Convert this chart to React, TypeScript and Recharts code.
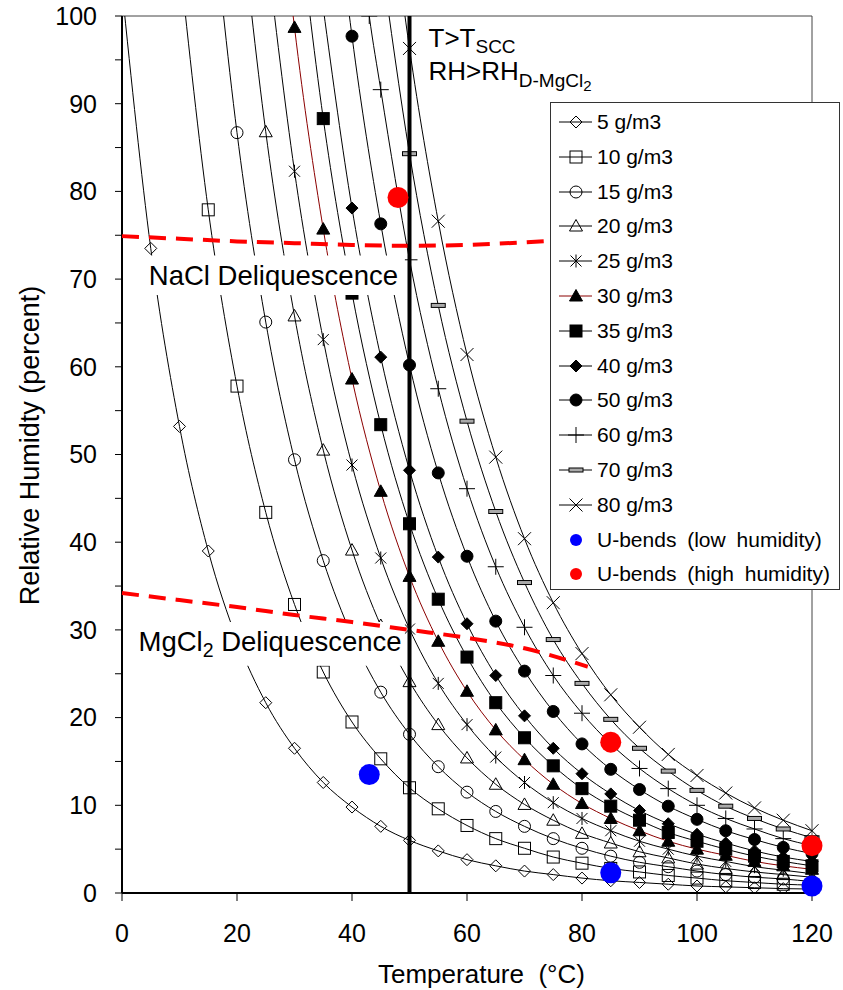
import React from "react";
import { ComposedChart, Line, Scatter, XAxis, YAxis, ReferenceLine, ReferenceArea, Legend } from "recharts";

const FONT = '"Liberation Sans", Arial, Helvetica, sans-serif';

// temperature grid of the curves (°C)
const temps = [0, 5, 10, 15, 20, 25, 30, 35, 40, 45, 50, 55, 60, 65, 70, 75, 80, 85, 90, 95, 100, 105, 110, 115, 120];

// relative humidity (%) for each absolute humidity; first value of each row runs off the top of the chart
const rh5 = [103.1, 73.5, 53.2, 39.0, 28.9, 21.7, 16.5, 12.6, 9.8, 7.6, 6.0, 4.8, 3.8, 3.1, 2.5, 2.1, 1.7, 1.4, 1.2, 1.0, 0.8, 0.7, 0.6, 0.5, 0.45];
const rh10 = [null, null, 106.4, 77.9, 57.8, 43.4, 32.9, 25.2, 19.5, 15.3, 12.0, 9.6, 7.7, 6.2, 5.1, 4.1, 3.4, 2.8, 2.4, 2.0, 1.7, 1.4, 1.2, 1.0, 0.9];
const rh15 = [null, null, null, 116.9, 86.7, 65.1, 49.4, 37.9, 29.3, 22.9, 18.1, 14.4, 11.5, 9.3, 7.6, 6.2, 5.1, 4.2, 3.5, 3.0, 2.5, 2.1, 1.8, 1.6, 1.3];
const rh20 = [null, null, null, null, 115.6, 86.8, 65.8, 50.5, 39.1, 30.5, 24.1, 19.2, 15.4, 12.4, 10.1, 8.3, 6.8, 5.7, 4.7, 4.0, 3.3, 2.8, 2.4, 2.1, 1.8];
const rh25 = [null, null, null, null, null, 108.5, 82.3, 63.1, 48.8, 38.2, 30.1, 23.9, 19.2, 15.5, 12.6, 10.3, 8.5, 7.1, 5.9, 5.0, 4.2, 3.6, 3.0, 2.6, 2.2];
const rh30 = [null, null, null, null, null, 130.2, 98.7, 75.7, 58.6, 45.8, 36.1, 28.7, 23.0, 18.6, 15.2, 12.4, 10.2, 8.5, 7.1, 5.9, 5.0, 4.3, 3.6, 3.1, 2.7];
const rh35 = [null, null, null, null, null, null, 115.2, 88.3, 68.4, 53.4, 42.1, 33.5, 26.9, 21.7, 17.7, 14.5, 11.9, 9.9, 8.3, 6.9, 5.9, 5.0, 4.2, 3.6, 3.1];
const rh40 = [null, null, null, null, null, null, null, 100.9, 78.1, 61.1, 48.2, 38.3, 30.7, 24.8, 20.2, 16.5, 13.6, 11.3, 9.4, 7.9, 6.7, 5.7, 4.8, 4.1, 3.6];
const rh50 = [null, null, null, null, null, null, null, 126.2, 97.7, 76.3, 60.2, 47.9, 38.4, 31.0, 25.3, 20.7, 17.0, 14.1, 11.8, 9.9, 8.4, 7.1, 6.1, 5.2, 4.5];
const rh60 = [null, null, null, null, null, null, null, null, 117.2, 91.6, 72.2, 57.5, 46.1, 37.2, 30.3, 24.8, 20.5, 17.0, 14.2, 11.9, 10.0, 8.5, 7.3, 6.2, 5.4];
const rh70 = [null, null, null, null, null, null, null, null, null, 106.9, 84.3, 67.0, 53.8, 43.5, 35.4, 28.9, 23.9, 19.8, 16.5, 13.9, 11.7, 9.9, 8.5, 7.3, 6.3];
const rh80 = [null, null, null, null, null, null, null, null, null, 122.1, 96.3, 76.6, 61.4, 49.7, 40.4, 33.1, 27.3, 22.6, 18.9, 15.8, 13.4, 11.4, 9.7, 8.3, 7.1];
// extra 60 g/m3 point sitting on the top edge
const rh60Extra = [{ t: 43, rh: 100 }];

// deliquescence lines
const naclTemps = [0, 10, 20, 30, 40, 50, 60, 70, 80];
const naclRh = [74.9, 74.6, 74.3, 74.1, 73.9, 73.8, 73.9, 74.2, 74.6];
const mgclTemps = [0, 10, 20, 30, 40, 50, 60, 70, 81];
const mgclRh = [34.2, 33.4, 32.6, 31.7, 30.9, 30.0, 29.1, 27.9, 25.8];

// U-bend samples
const lowT = [43, 85, 120];
const lowRh = [13.5, 2.3, 0.8];
const highT = [48, 85, 120];
const highRh = [79.3, 17.2, 5.4];

const series = [
  { name: "5 g/m3", values: rh5, marker: "diamondOpen", color: "#000" },
  { name: "10 g/m3", values: rh10, marker: "squareOpen", color: "#000" },
  { name: "15 g/m3", values: rh15, marker: "circleOpen", color: "#000" },
  { name: "20 g/m3", values: rh20, marker: "triangleOpen", color: "#000" },
  { name: "25 g/m3", values: rh25, marker: "asterisk", color: "#000" },
  { name: "30 g/m3", values: rh30, marker: "triangleFilled", color: "#8b0000" },
  { name: "35 g/m3", values: rh35, marker: "squareFilled", color: "#000" },
  { name: "40 g/m3", values: rh40, marker: "diamondFilled", color: "#000" },
  { name: "50 g/m3", values: rh50, marker: "circleFilled", color: "#000" },
  { name: "60 g/m3", values: rh60, marker: "plus", color: "#000", extra: rh60Extra },
  { name: "70 g/m3", values: rh70, marker: "dash", color: "#000" },
  { name: "80 g/m3", values: rh80, marker: "cross", color: "#000" },
];

const W = 843;
const H = 990;
const MARGIN = { top: 16, right: 31, bottom: 97, left: 122 };

const toRows = (ts: number[], vs: (number | null)[]) =>
  ts.map((t, i) => ({ t, rh: vs[i] })).filter((d) => d.rh != null);

const Marker = ({ kind, cx, cy }: { kind: string; cx: number; cy: number }) => {
  const k = "#000";
  switch (kind) {
    case "diamondOpen":
    case "diamondFilled":
      return (
        <polygon
          points={`${cx},${cy - 6} ${cx + 6},${cy} ${cx},${cy + 6} ${cx - 6},${cy}`}
          fill={kind === "diamondFilled" ? k : "none"}
          stroke={k}
        />
      );
    case "squareOpen":
    case "squareFilled":
      return <rect x={cx - 6} y={cy - 6} width={12} height={12} fill={kind === "squareFilled" ? k : "none"} stroke={k} />;
    case "circleOpen":
    case "circleFilled":
      return <circle cx={cx} cy={cy} r={6} fill={kind === "circleFilled" ? k : "none"} stroke={k} />;
    case "triangleOpen":
    case "triangleFilled":
      return (
        <polygon
          points={`${cx},${cy - 6.5} ${cx + 6.5},${cy + 5} ${cx - 6.5},${cy + 5}`}
          fill={kind === "triangleFilled" ? k : "none"}
          stroke={k}
        />
      );
    case "asterisk":
      return (
        <path
          d={`M${cx - 5.5},${cy - 5.5}L${cx + 5.5},${cy + 5.5}M${cx + 5.5},${cy - 5.5}L${cx - 5.5},${cy + 5.5}M${cx},${cy - 6.5}L${cx},${cy + 6.5}`}
          stroke={k}
          fill="none"
        />
      );
    case "plus":
      return <path d={`M${cx - 8},${cy}H${cx + 8}M${cx},${cy - 8}V${cy + 8}`} stroke={k} fill="none" />;
    case "dash":
      return <rect x={cx - 7} y={cy - 2} width={14} height={4} fill="#aaa" stroke={k} />;
    case "cross":
      return <path d={`M${cx - 6.5},${cy - 6.5}L${cx + 6.5},${cy + 6.5}M${cx + 6.5},${cy - 6.5}L${cx - 6.5},${cy + 6.5}`} stroke={k} fill="none" />;
    default:
      return <g />;
  }
};

const makeDot = (kind: string) => (props: any) => {
  const { cx, cy, payload, index } = props;
  if (cx == null || cy == null || payload == null || payload.rh > 100) return <g key={index} />;
  return (
    <g key={index}>
      <Marker kind={kind} cx={cx} cy={cy} />
    </g>
  );
};

const bigDot = (color: string) => (props: any) => <circle cx={props.cx} cy={props.cy} r={10.5} fill={color} />;

const LegendBox = () => (
  <div
    style={{
      position: "relative",
      width: 290,
      height: 488,
      boxSizing: "border-box",
      border: "1px solid #333",
      background: "#fff",
      fontFamily: FONT,
      fontSize: 21,
      color: "#000",
    }}
  >
    {series.map((s, i) => (
      <div key={s.name} style={{ position: "absolute", left: 0, top: 1.6 + 34.8 * i, height: 34.8, display: "flex", alignItems: "center" }}>
        <svg width={46} height={20}>
          <line x1={8} x2={41} y1={10} y2={10} stroke={s.color} />
          <Marker kind={s.marker} cx={25} cy={10} />
        </svg>
        <span style={{ whiteSpace: "pre" }}>{s.name}</span>
      </div>
    ))}
    {[
      { name: "U-bends (low humidity)", color: "#0000ff" },
      { name: "U-bends (high humidity)", color: "#ff0000" },
    ].map((s, j) => (
      <div key={s.name} style={{ position: "absolute", left: 0, top: 1.6 + 34.8 * (12 + j), height: 34.8, display: "flex", alignItems: "center" }}>
        <svg width={46} height={20}>
          <circle cx={25} cy={10} r={6} fill={s.color} />
        </svg>
        <span style={{ whiteSpace: "pre", wordSpacing: 5 }}>{s.name}</span>
      </div>
    ))}
  </div>
);

const yLabel = (props: any) => {
  const vb = props.viewBox;
  const cx = 39;
  const cy = vb.y + vb.height / 2 - 9;
  return (
    <text x={cx} y={cy} transform={`rotate(-90, ${cx}, ${cy})`} textAnchor="middle" fontSize={27} fontFamily={FONT} fill="#000">
      Relative Humidty (percent)
    </text>
  );
};

const xLabel = (props: any) => {
  const vb = props.viewBox;
  return (
    <text x={vb.x + 256} y={vb.y + 90} fontSize={26} fontFamily={FONT} fill="#000" style={{ whiteSpace: "pre" }}>
      Temperature  (°C)
    </text>
  );
};

const naclLabel = (props: any) => {
  const vb = props.viewBox;
  return (
    <text x={vb.x + 9} y={vb.y + 30} fontSize={27.5} fontFamily={FONT} fill="#000">
      NaCl Deliquescence
    </text>
  );
};

const mgclLabel = (props: any) => {
  const vb = props.viewBox;
  return (
    <text x={vb.x + 5} y={vb.y + 29} fontSize={27.5} fontFamily={FONT} fill="#000">
      MgCl<tspan fontSize={19.5} dy={6}>2</tspan>
      <tspan dy={-6}> Deliquescence</tspan>
    </text>
  );
};

const sccLabel = (props: any) => {
  const vb = props.viewBox;
  const x = vb.x + 19;
  return (
    <g fontFamily={FONT} fill="#000">
      <text x={x} y={vb.y + 31} fontSize={26}>
        T&gt;T<tspan fontSize={19} dy={6}>SCC</tspan>
      </text>
      <text x={x} y={vb.y + 64} fontSize={26}>
        RH&gt;RH<tspan fontSize={19} dy={7}>D-MgCl</tspan>
        <tspan fontSize={15} dy={4}>2</tspan>
      </text>
    </g>
  );
};

// base layer: axes, frame and the absolute humidity curves
const CurvesChart = () => {
  const tick = { fontSize: 25, fontFamily: FONT, fill: "#000" };
  return (
    <ComposedChart width={W} height={H} margin={{ top: MARGIN.top, right: MARGIN.right, bottom: 0, left: 0 }}>
      <XAxis
        type="number"
        dataKey="t"
        domain={[0, 120]}
        ticks={[0, 20, 40, 60, 80, 100, 120]}
        interval={0}
        height={MARGIN.bottom}
        tick={tick}
        tickSize={8}
        tickMargin={23}
        axisLine={{ stroke: "#000", strokeWidth: 2 }}
        tickLine={{ stroke: "#000" }}
        label={xLabel}
      />
      <YAxis
        type="number"
        domain={[0, 100]}
        allowDataOverflow
        ticks={[0, 5, 10, 15, 20, 25, 30, 35, 40, 45, 50, 55, 60, 65, 70, 75, 80, 85, 90, 95, 100]}
        interval={0}
        tickFormatter={(v: number) => (v % 10 === 0 ? String(v) : "")}
        width={MARGIN.left}
        tick={tick}
        tickSize={7}
        tickMargin={18}
        axisLine={{ stroke: "#000", strokeWidth: 2 }}
        tickLine={{ stroke: "#000" }}
        label={yLabel}
      />
      <ReferenceLine y={100} stroke="#444" strokeWidth={1} />
      <ReferenceLine x={120} stroke="#444" strokeWidth={1} />
      {series.map((s) => {
        let rows = toRows(temps, s.values);
        if (s.extra) rows = [...rows, ...s.extra].sort((a, b) => a.t - b.t);
        return (
          <Line
            key={s.name}
            data={rows}
            dataKey="rh"
            type="monotone"
            stroke={s.color}
            strokeWidth={1}
            dot={makeDot(s.marker)}
            activeDot={false}
            isAnimationActive={false}
          />
        );
      })}
    </ComposedChart>
  );
};

// top layer: text boxes, deliquescence lines, U-bends, T=50 line and legend
const OverlayChart = () => (
  <ComposedChart width={W} height={H} margin={MARGIN} style={{ background: "transparent" }}>
    <XAxis type="number" dataKey="t" domain={[0, 120]} hide />
    <YAxis type="number" domain={[0, 100]} hide />
    <ReferenceArea x1={3.1} x2={49.2} y1={68.2} y2={72.7} fill="#fff" fillOpacity={1} stroke="none" label={naclLabel} />
    <ReferenceArea x1={2.0} x2={49.2} y1={25.9} y2={30.9} fill="#fff" fillOpacity={1} stroke="none" label={mgclLabel} />
    <Line
      data={toRows(naclTemps, naclRh)}
      dataKey="rh"
      type="monotone"
      stroke="#ff0000"
      strokeWidth={4}
      strokeDasharray="17 10"
      dot={false}
      activeDot={false}
      isAnimationActive={false}
    />
    <Line
      data={toRows(mgclTemps, mgclRh)}
      dataKey="rh"
      type="monotone"
      stroke="#ff0000"
      strokeWidth={4}
      strokeDasharray="17 10"
      dot={false}
      activeDot={false}
      isAnimationActive={false}
    />
    <Scatter data={toRows(lowT, lowRh)} dataKey="rh" fill="#0000ff" shape={bigDot("#0000ff")} isAnimationActive={false} />
    <Scatter data={toRows(highT, highRh)} dataKey="rh" fill="#ff0000" shape={bigDot("#ff0000")} isAnimationActive={false} />
    <ReferenceLine x={50} stroke="#000" strokeWidth={4} label={sccLabel} />
    <Legend
      content={() => <LegendBox />}
      layout="vertical"
      align="center"
      verticalAlign="middle"
      wrapperStyle={{ left: 550, top: 102, width: 290, height: 488 }}
    />
  </ComposedChart>
);

export default function App() {
  return (
    <div style={{ position: "absolute", left: 0, top: 0, width: W, height: H }}>
      <div style={{ position: "absolute", left: 0, top: 0 }}>
        <CurvesChart />
      </div>
      <div style={{ position: "absolute", left: 0, top: 0 }}>
        <OverlayChart />
      </div>
    </div>
  );
}
